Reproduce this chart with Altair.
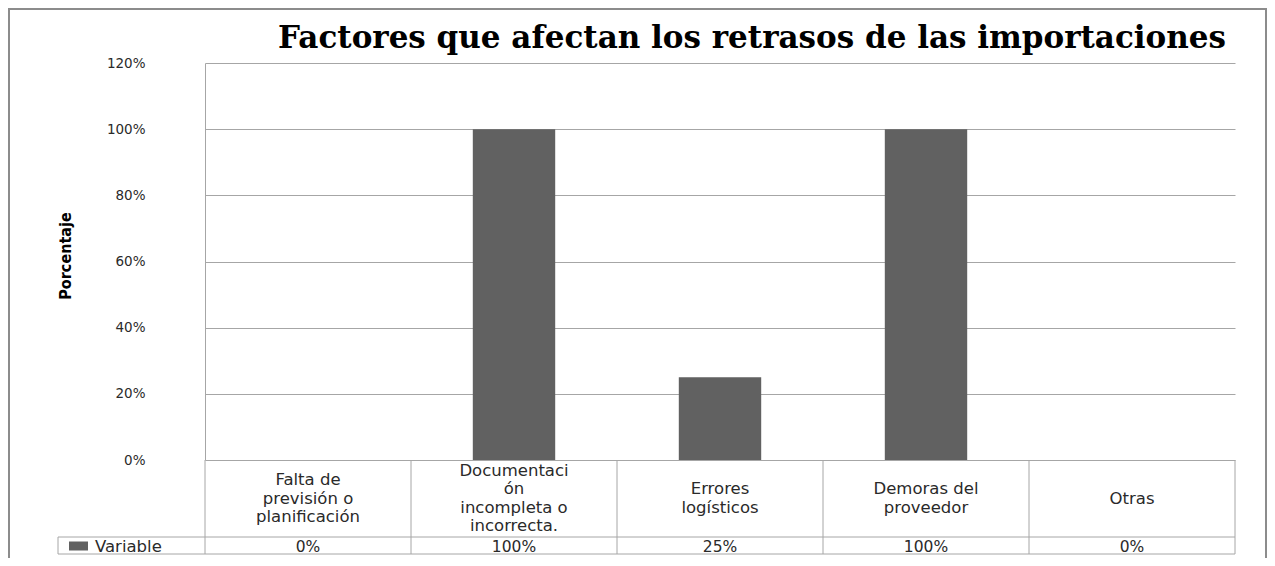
import altair as alt
import pandas as pd

# ---- data ----
categories = [
    "Falta de previsión o planificación",
    "Documentación incompleta o incorrecta.",
    "Errores logísticos",
    "Demoras del proveedor",
    "Otras",
]
label_lines = [
    ["Falta de", "previsión o", "planificación"],
    ["Documentaci", "ón", "incompleta o", "incorrecta."],
    ["Errores", "logísticos"],
    ["Demoras del", "proveedor"],
    ["Otras"],
]
values = [0.0, 1.0, 0.25, 1.0, 0.0]
value_labels = ["0%", "100%", "25%", "100%", "0%"]
series_name = "Variable"
y_ticks = [0, 0.2, 0.4, 0.6, 0.8, 1.0, 1.2]
title_text = "Factores que afectan los retrasos de las importaciones"
y_title = "Porcentaje"

W, H = 1030, 397
BAR = "#616161"
LINE = "#a6a6a6"
TXT = "#2a2a2a"
LH = 18.5
ROW1 = H + 77   # bottom of category-label row
ROW2 = H + 94   # bottom of value row

df = pd.DataFrame({
    "cat": categories,
    "value": values,
    "label": ["\n".join(l) for l in label_lines],
    "nlines": [len(l) for l in label_lines],
    "vlabel": value_labels,
    "mid": [i + 0.5 for i in range(len(categories))],
})
bounds = pd.DataFrame({"b": list(range(len(categories) + 1))})
series_df = pd.DataFrame({"s": [series_name]})
title_df = pd.DataFrame({"t": [title_text]})

xq = alt.Scale(domain=[0, len(categories)], nice=False, zero=False)

bars = alt.Chart(df).mark_bar(color=BAR).encode(
    x=alt.X("cat:N", sort=categories, axis=None,
            scale=alt.Scale(paddingInner=0.6, paddingOuter=0.3)),
    y=alt.Y("value:Q", scale=alt.Scale(domain=[0, 1.2], nice=False),
            axis=alt.Axis(values=y_ticks, format="%", grid=True, gridColor=LINE,
                          domainColor=LINE, ticks=False, labelPadding=60,
                          labelFont="DejaVu Sans", labelFontSize=13.5, labelColor=TXT,
                          title=y_title,
                          titleFont="Liberation Sans Narrow, DejaVu Sans Condensed, sans-serif",
                          titleFontSize=16, titleFontWeight="bold", titleColor="black",
                          titleX=-140, titleY=H / 2 - 6, titleAngle=270, titleAlign="center",
                          titleBaseline="middle")),
)

vrules = alt.Chart(bounds).mark_rule(color=LINE, strokeWidth=1).encode(
    x=alt.X("b:Q", scale=xq, axis=None),
    y=alt.value(H), y2=alt.value(ROW2),
)

cat_text = alt.Chart(df).transform_calculate(
    ypix=f"{(H + ROW1) / 2} - (datum.nlines - 1) * {LH} / 2"
).mark_text(font="DejaVu Sans", fontSize=16.5, lineHeight=LH,
            baseline="middle", align="center", lineBreak="\n",
            color=TXT).encode(
    x=alt.X("mid:Q", scale=xq, axis=None),
    y=alt.Y("ypix:Q", scale=None, axis=None),
    text="label:N",
)

val_text = alt.Chart(df).mark_text(font="DejaVu Sans", fontSize=15.5, baseline="middle",
                                   align="center", color=TXT).encode(
    x=alt.X("mid:Q", scale=xq, axis=None),
    y=alt.value((ROW1 + ROW2) / 2 + 1),
    text="vlabel:N",
)

hrule1 = alt.Chart(series_df).mark_rule(color=LINE, strokeWidth=1).encode(
    x=alt.value(-147), x2=alt.value(W), y=alt.value(ROW1))
hrule2 = alt.Chart(series_df).mark_rule(color=LINE, strokeWidth=1).encode(
    x=alt.value(-147), x2=alt.value(W), y=alt.value(ROW2))
vleft = alt.Chart(series_df).mark_rule(color=LINE, strokeWidth=1).encode(
    x=alt.value(-147), y=alt.value(ROW1), y2=alt.value(ROW2))

legend_sq = alt.Chart(series_df).mark_rect(color=BAR).encode(
    x=alt.value(-136), x2=alt.value(-117),
    y=alt.value((ROW1 + ROW2) / 2 - 4), y2=alt.value((ROW1 + ROW2) / 2 + 5))
legend_txt = alt.Chart(series_df).mark_text(font="DejaVu Sans", fontSize=16.5, baseline="middle",
                                            align="left", color=TXT).encode(
    x=alt.value(-110), y=alt.value((ROW1 + ROW2) / 2 + 1), text="s:N")

border = alt.Chart(series_df).mark_rect(filled=False, stroke="#8c8c8c", strokeWidth=2).encode(
    x=alt.value(-196), x2=alt.value(W + 31), y=alt.value(-54), y2=alt.value(H + 150))

title = alt.Chart(title_df).mark_text(font="DejaVu Serif", fontSize=31, fontWeight="bold",
                                      color="black", align="center", baseline="middle").encode(
    x=alt.value(W / 2 + 32), y=alt.value(-24), text="t:N")

table = alt.layer(vrules, cat_text, val_text)

chart = alt.layer(
    border, title, bars, table, hrule1, hrule2, vleft, legend_sq, legend_txt
).resolve_scale(x="independent").properties(
    width=W, height=H,
    autosize="none",
    padding={"left": 197, "top": 55, "right": 32, "bottom": 98},
).configure_view(stroke=None)

chart.save("out.html", embed_options={"renderer": "svg", "actions": False})
